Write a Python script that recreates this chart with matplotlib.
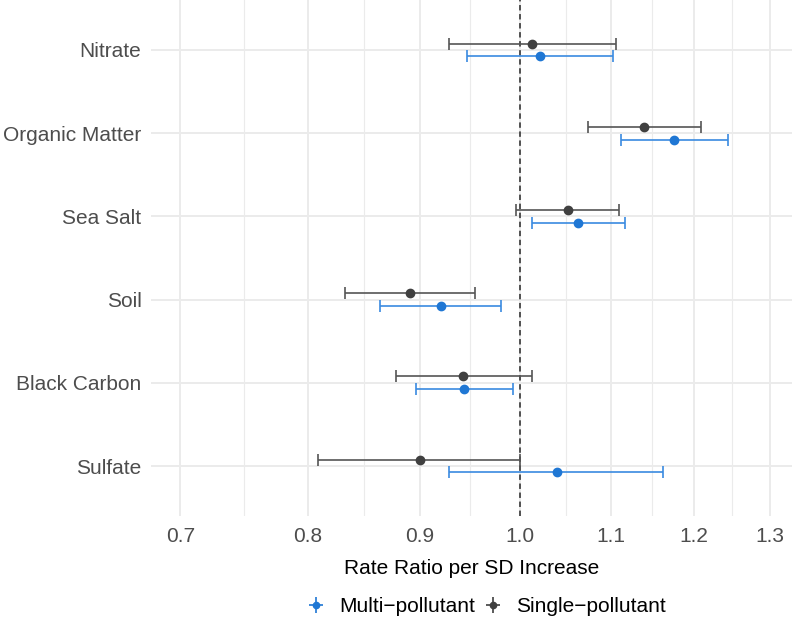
import matplotlib
matplotlib.use("Agg")
import matplotlib.pyplot as plt
from matplotlib.lines import Line2D
from matplotlib.ticker import FixedLocator, FixedFormatter, NullFormatter
import numpy as np

plt.rcParams['font.family'] = ['Liberation Sans', 'DejaVu Sans']

# categories top to bottom
components = ["Nitrate", "Organic Matter", "Sea Salt", "Soil", "Black Carbon", "Sulfate"]

# single-pollutant models (estimate, lower, upper)
single_est = [1.013, 1.139, 1.051, 0.891, 0.942, 0.900]
single_lo = [0.928, 1.074, 0.996, 0.832, 0.878, 0.809]
single_hi = [1.106, 1.209, 1.109, 0.954, 1.012, 1.000]

# multi-pollutant models
multi_est = [1.021, 1.175, 1.063, 0.920, 0.943, 1.039]
multi_lo = [0.946, 1.111, 1.012, 0.863, 0.896, 0.928]
multi_hi = [1.102, 1.244, 1.116, 0.980, 0.992, 1.162]

x_ticks = [0.7, 0.8, 0.9, 1.0, 1.1, 1.2, 1.3]

blue = "#1f77d4"
dark = "#404040"
fs = 15

fig = plt.figure(figsize=(8, 6.25), dpi=100)
ax = fig.add_axes([0.189, 0.1744, 0.801, 0.8256])

n = len(components)
ypos = np.arange(n)[::-1]
dodge = 0.077

single_est = np.array(single_est)
multi_est = np.array(multi_est)
s_err = [single_est - np.array(single_lo), np.array(single_hi) - single_est]
m_err = [multi_est - np.array(multi_lo), np.array(multi_hi) - multi_est]

ax.errorbar(single_est, ypos + dodge, xerr=s_err, fmt='o', color=dark, ecolor="#555555",
            ms=6, elinewidth=1.2, capsize=4, capthick=1.2, zorder=3)
ax.errorbar(multi_est, ypos - dodge, xerr=m_err, fmt='o', color=blue, ecolor="#3a8ae0",
            ms=6, elinewidth=1.2, capsize=4, capthick=1.2, zorder=3)

ax.axvline(1.0, color="#444444", ls=(0, (3, 2)), lw=1.3, zorder=2)

ax.set_xscale('log')
ax.set_xlim(0.679, 1.330)
ax.set_ylim(-0.6, n - 0.4)
ax.xaxis.set_major_locator(FixedLocator(x_ticks))
ax.xaxis.set_major_formatter(FixedFormatter([f"{t:.1f}" for t in x_ticks]))
minors = [np.sqrt(a * b) for a, b in zip(x_ticks[:-1], x_ticks[1:])]
ax.xaxis.set_minor_locator(FixedLocator(minors))
ax.xaxis.set_minor_formatter(NullFormatter())
ax.set_yticks(ypos)
ax.set_yticklabels(components)

ax.grid(True, which='major', color="#ebebeb", lw=1.4, zorder=0)
ax.grid(True, which='minor', axis='x', color="#ebebeb", lw=0.8, zorder=0)
ax.set_axisbelow(True)
for s in ax.spines.values():
    s.set_visible(False)
ax.tick_params(axis='both', which='both', length=0, labelsize=fs, labelcolor="#4d4d4d")
ax.tick_params(axis='x', pad=8)
ax.tick_params(axis='y', pad=7)

ax.set_xlabel("Rate Ratio per SD Increase", fontsize=fs, color="black", labelpad=9)

h_multi = (Line2D([], [], color=blue, marker='|', ms=12, ls='none', mew=1.2),
           Line2D([], [], color=blue, marker='_', ms=10, ls='none', mew=1.2),
           Line2D([], [], color=blue, marker='o', ms=4.5, ls='none'))
h_single = (Line2D([], [], color=dark, marker='|', ms=12, ls='none', mew=1.2),
            Line2D([], [], color=dark, marker='_', ms=10, ls='none', mew=1.2),
            Line2D([], [], color=dark, marker='o', ms=4.5, ls='none'))
fig.legend([h_multi, h_single], ["Multi\u2212pollutant", "Single\u2212pollutant"],
           loc='center', bbox_to_anchor=(0.606, 0.029), ncol=2, frameon=False,
           fontsize=fs, handlelength=1.2, handletextpad=0.5, columnspacing=0.3)

fig.savefig("out.png", dpi=100)
